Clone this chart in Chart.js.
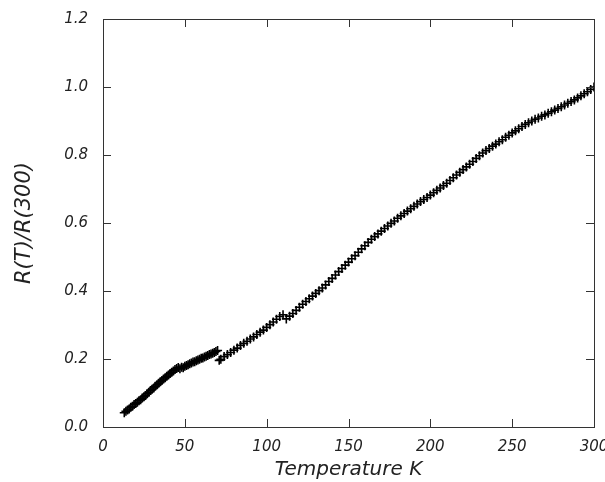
<!DOCTYPE html>
<html>
<head>
<meta charset="utf-8">
<script src="https://cdn.jsdelivr.net/npm/chart.js@4/dist/chart.umd.min.js"></script>
<style>
  html, body { margin: 0; padding: 0; background: #fff; }
  #wrap { width: 605px; height: 482px; }
</style>
</head>
<body>
<div id="wrap"><canvas id="chart"></canvas></div>
<script>
// Temperature (K) and R(T)/R(300)
const temperature = [
  13, 14, 15, 16, 17, 18, 19, 20, 21, 22, 23, 24, 25, 26, 27, 28, 29, 30,
  31, 32, 33, 34, 35, 36, 37, 38, 39, 40, 41, 42, 43, 44, 45, 46, 47, 48,
  49, 50, 51, 52, 53, 54, 55, 56, 57, 58, 59, 60, 61, 62, 63, 64, 65, 66,
  67, 68, 69, 70, 71, 72, 74, 76, 78, 80, 82, 84, 86, 88, 90, 92, 94, 96,
  98, 100, 102, 104, 106, 108, 110, 112, 114, 116, 118, 120, 122, 124, 126,
  128, 130, 132, 134, 136, 138, 140, 142, 144, 146, 148, 150, 152, 154, 156,
  158, 160, 162, 164, 166, 168, 170, 172, 174, 176, 178, 180, 182, 184, 186,
  188, 190, 192, 194, 196, 198, 200, 202, 204, 206, 208, 210, 212, 214, 216,
  218, 220, 222, 224, 226, 228, 230, 232, 234, 236, 238, 240, 242, 244, 246,
  248, 250, 252, 254, 256, 258, 260, 262, 264, 266, 268, 270, 272, 274, 276,
  278, 280, 282, 284, 286, 288, 290, 292, 294, 296, 298, 300
];
const resistance = [
  0.042, 0.046, 0.050, 0.053, 0.058, 0.061, 0.066, 0.069, 0.073, 0.077, 0.080, 0.085, 0.089, 0.093, 0.098, 0.102, 0.107, 0.111,
  0.115, 0.120, 0.124, 0.129, 0.133, 0.137, 0.141, 0.145, 0.149, 0.153, 0.157, 0.161, 0.165, 0.169, 0.172, 0.175, 0.171, 0.176,
  0.174, 0.179, 0.181, 0.183, 0.186, 0.188, 0.191, 0.192, 0.195, 0.197, 0.199, 0.202, 0.203, 0.206, 0.208, 0.210, 0.213, 0.215,
  0.217, 0.219, 0.222, 0.225, 0.196, 0.199, 0.207, 0.213, 0.219, 0.226, 0.232, 0.240, 0.246, 0.252, 0.259, 0.265, 0.272, 0.279,
  0.285, 0.293, 0.301, 0.309, 0.317, 0.325, 0.330, 0.318, 0.326, 0.334, 0.343, 0.352, 0.361, 0.369, 0.377,
  0.385, 0.393, 0.401, 0.409, 0.418, 0.428, 0.437, 0.447, 0.457, 0.466, 0.476, 0.485, 0.495, 0.504, 0.514,
  0.524, 0.533, 0.543, 0.552, 0.560, 0.568, 0.576, 0.584, 0.591, 0.599, 0.606, 0.614, 0.621, 0.628, 0.635,
  0.642, 0.649, 0.656, 0.663, 0.669, 0.675, 0.682, 0.689, 0.696, 0.703, 0.710, 0.717, 0.725, 0.733, 0.741,
  0.749, 0.757, 0.765, 0.773, 0.781, 0.790, 0.798, 0.806, 0.813, 0.819, 0.826, 0.832, 0.839, 0.845, 0.852,
  0.858, 0.865, 0.871, 0.877, 0.884, 0.890, 0.895, 0.900, 0.905, 0.909, 0.914, 0.918, 0.923, 0.927, 0.932,
  0.937, 0.942, 0.947, 0.952, 0.957, 0.962, 0.968, 0.974, 0.980, 0.986, 0.993, 1.000
];
const xTicks = [0, 50, 100, 150, 200, 250, 300];
const yTicks = [0.0, 0.2, 0.4, 0.6, 0.8, 1.0, 1.2];

const points = temperature.map((t, i) => ({x: t, y: resistance[i]}));

// frame with inward ticks on all four sides
const framePlugin = {
  id: 'frame',
  afterDraw(chart) {
    const {ctx, chartArea: a, scales: {x, y}} = chart;
    const len = 8;
    ctx.save();
    ctx.strokeStyle = '#333';
    ctx.lineWidth = 1;
    ctx.strokeRect(a.left + 0.5, a.top + 0.5, a.right - a.left, a.bottom - a.top);
    ctx.beginPath();
    xTicks.forEach(v => {
      const px = Math.round(x.getPixelForValue(v)) + 0.5;
      ctx.moveTo(px, a.bottom);
      ctx.lineTo(px, a.bottom - len);
      ctx.moveTo(px, a.top);
      ctx.lineTo(px, a.top + len);
    });
    yTicks.forEach(v => {
      const py = Math.round(y.getPixelForValue(v)) + 0.5;
      ctx.moveTo(a.left, py);
      ctx.lineTo(a.left + len, py);
      ctx.moveTo(a.right, py);
      ctx.lineTo(a.right - len, py);
    });
    ctx.stroke();
    ctx.restore();
  }
};

const tickFont = {family: 'DejaVu Sans', size: 15, style: 'italic'};
const titleFont = {family: 'DejaVu Sans', size: 20, style: 'italic'};

new Chart(document.getElementById('chart'), {
  type: 'scatter',
  data: {
    datasets: [{
      data: points,
      pointStyle: 'cross',
      pointRadius: 4.5,
      pointBorderWidth: 1.6,
      borderColor: '#000',
      backgroundColor: '#000'
    }]
  },
  options: {
    responsive: true,
    maintainAspectRatio: false,
    animation: false,
    layout: {padding: {top: 19, right: 11, left: 0, bottom: 0}},
    plugins: {legend: {display: false}, tooltip: {enabled: false}},
    scales: {
      x: {
        type: 'linear',
        min: 0,
        max: 300,
        afterBuildTicks: s => { s.ticks = xTicks.map(v => ({value: v})); },
        afterFit: s => { s.height = 55; s.paddingLeft = 0; s.paddingRight = 0; },
        grid: {display: false, drawTicks: false, tickLength: 0},
        border: {display: false},
        ticks: {color: '#222', font: tickFont, padding: 11, maxRotation: 0,
          callback: v => String(v)},
        title: {display: true, text: 'Temperature K', color: '#222', font: titleFont,
          padding: {top: 2, bottom: 0}}
      },
      y: {
        type: 'linear',
        min: 0,
        max: 1.2,
        afterBuildTicks: s => { s.ticks = yTicks.map(v => ({value: v})); },
        afterFit: s => { s.width = 103; s.paddingTop = 0; s.paddingBottom = 0; },
        grid: {display: false, drawTicks: false, tickLength: 0},
        border: {display: false},
        ticks: {color: '#222', font: tickFont, padding: 15,
          callback: v => v.toFixed(1)},
        title: {display: true, text: 'R(T)/R(300)', color: '#222',
          font: {family: 'DejaVu Sans', size: 21, style: 'italic'},
          padding: {top: 12, bottom: 0}}
      }
    }
  },
  plugins: [framePlugin]
});
</script>
</body>
</html>
